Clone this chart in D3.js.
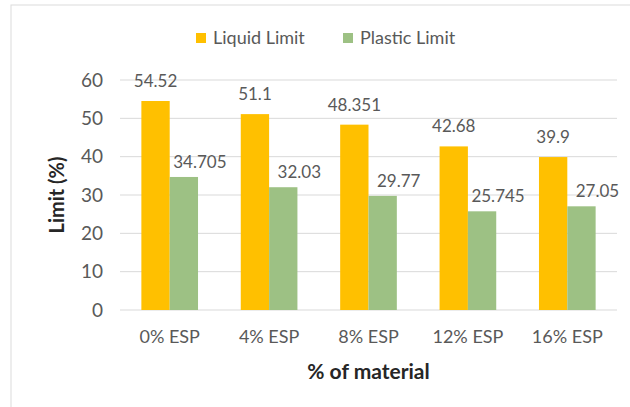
<!DOCTYPE html>
<html>
<head>
<meta charset="utf-8">
<script src="https://cdn.jsdelivr.net/npm/d3@7"></script>
<style>
  body { margin: 0; background: #fff; }
  text { font-family: Lato, "Open Sans", sans-serif; }
</style>
</head>
<body>
<script>
const categories = ["0% ESP", "4% ESP", "8% ESP", "12% ESP", "16% ESP"];
const seriesNames = ["Liquid Limit", "Plastic Limit"];
const liquidLimit = [54.52, 51.1, 48.351, 42.68, 39.9];
const plasticLimit = [34.705, 32.03, 29.77, 25.745, 27.05];
const yTicks = [0, 10, 20, 30, 40, 50, 60];

const width = 630, height = 407;
const colors = {"Liquid Limit": "#FFC000", "Plastic Limit": "#9DC184"};
const margin = {top: 80, right: 13, bottom: 97, left: 120};

const svg = d3.select("body").append("svg")
  .attr("width", width)
  .attr("height", height);

// chart frame
svg.append("rect")
  .attr("x", 11).attr("y", 5)
  .attr("width", width + 10).attr("height", height + 10)
  .attr("fill", "#fff")
  .attr("stroke", "#dcdcdc");

const x = d3.scaleBand()
  .domain(categories)
  .range([margin.left, width - margin.right])
  .paddingInner(0.43)
  .paddingOuter(0.215);

const xSub = d3.scaleBand()
  .domain(seriesNames)
  .range([0, x.bandwidth()]);

const y = d3.scaleLinear()
  .domain([0, 60])
  .range([height - margin.bottom, margin.top]);

// gridlines
svg.append("g")
  .selectAll("line")
  .data(yTicks)
  .join("line")
  .attr("x1", margin.left)
  .attr("x2", width - margin.right)
  .attr("y1", d => y(d))
  .attr("y2", d => y(d))
  .attr("stroke", "#d9d9d9")
  .attr("stroke-width", 1);

// y axis labels
const yAxis = svg.append("g")
  .attr("transform", `translate(${margin.left - 17},0)`)
  .call(d3.axisLeft(y).tickValues(yTicks).tickSize(0).tickPadding(0));
yAxis.select(".domain").remove();
yAxis.selectAll("text")
  .attr("fill", "#595959")
  .style("font-size", "19px");

// x axis labels
const xAxis = svg.append("g")
  .attr("transform", `translate(0,${height - margin.bottom})`)
  .call(d3.axisBottom(x).tickSize(0).tickPadding(20));
xAxis.select(".domain").remove();
xAxis.selectAll("text")
  .attr("fill", "#595959")
  .style("font-size", "18px");

const rows = categories.map((c, i) => ({
  cat: c,
  vals: [
    {key: "Liquid Limit", value: liquidLimit[i]},
    {key: "Plastic Limit", value: plasticLimit[i]}
  ]
}));

const groups = svg.append("g")
  .selectAll("g")
  .data(rows)
  .join("g")
  .attr("transform", d => `translate(${x(d.cat)},0)`);

groups.selectAll("rect")
  .data(d => d.vals)
  .join("rect")
  .attr("x", d => xSub(d.key))
  .attr("y", d => y(d.value))
  .attr("width", xSub.bandwidth())
  .attr("height", d => y(0) - y(d.value))
  .attr("fill", d => colors[d.key]);

// data labels
groups.selectAll("text.lbl")
  .data(d => d.vals)
  .join("text")
  .attr("class", "lbl")
  .attr("x", d => xSub(d.key) + xSub.bandwidth() / 2 + (d.key === "Plastic Limit" ? 16 : 0))
  .attr("y", d => y(d.value) - (d.key === "Plastic Limit" ? 9 : 14))
  .attr("text-anchor", "middle")
  .attr("fill", "#595959")
  .style("font-size", "17px")
  .text(d => d.value);

// axis titles
svg.append("text")
  .attr("transform", `translate(64,${(y(0) + y(60)) / 2}) rotate(-90)`)
  .attr("text-anchor", "middle")
  .attr("fill", "#262626")
  .style("font-size", "20px")
  .style("font-weight", "bold")
  .text("Limit (%)");

svg.append("text")
  .attr("x", (margin.left + width - margin.right) / 2)
  .attr("y", 379)
  .attr("text-anchor", "middle")
  .attr("fill", "#262626")
  .style("font-size", "21px")
  .style("font-weight", "bold")
  .text("% of material");

// legend
const legendX = [196, 343];
const legend = svg.append("g")
  .selectAll("g")
  .data(seriesNames)
  .join("g")
  .attr("transform", (d, i) => `translate(${legendX[i]},38)`);

legend.append("rect")
  .attr("x", 0).attr("y", -5)
  .attr("width", 10).attr("height", 10)
  .attr("fill", d => colors[d]);

legend.append("text")
  .attr("x", 17)
  .attr("y", 6)
  .attr("fill", "#595959")
  .style("font-size", "18px")
  .text(d => d);
</script>
</body>
</html>
